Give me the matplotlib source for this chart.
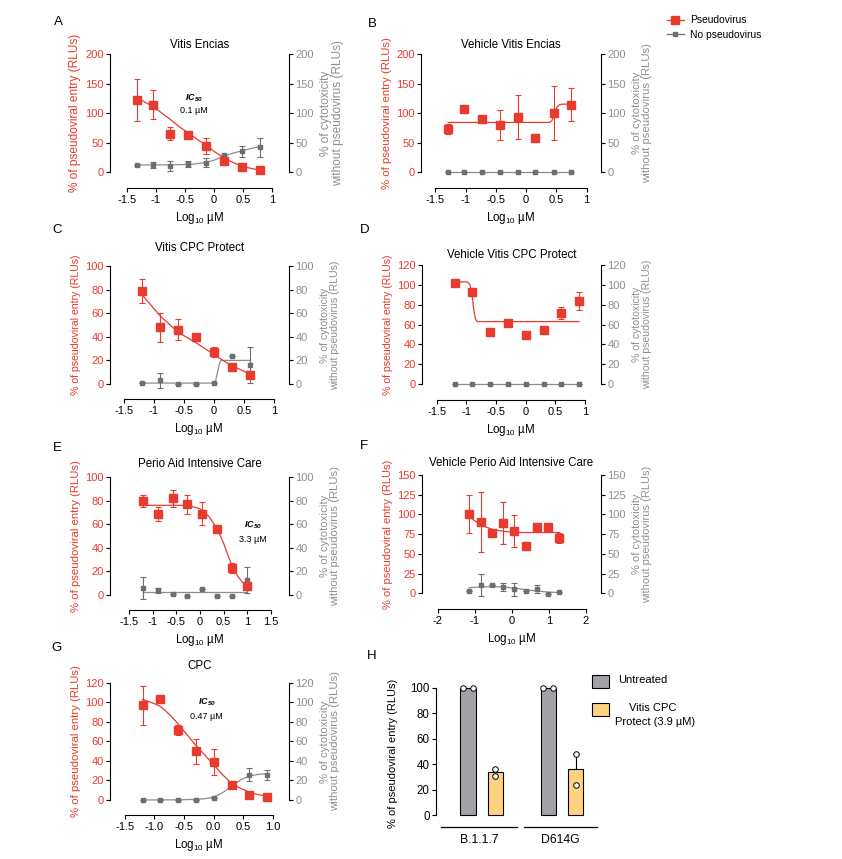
import numpy as np
import matplotlib
matplotlib.use("Agg")
import matplotlib.pyplot as plt
from matplotlib.lines import Line2D
from matplotlib.patches import Rectangle
from matplotlib.ticker import FuncFormatter

plt.rcParams['font.family'] = ['Liberation Sans', 'DejaVu Sans']
plt.rcParams['mathtext.fontset'] = 'custom'
plt.rcParams['mathtext.rm'] = 'Liberation Sans'
plt.rcParams['mathtext.it'] = 'Liberation Sans:italic'
plt.rcParams['mathtext.bf'] = 'Liberation Sans:bold'
plt.rcParams['mathtext.bfit'] = 'Liberation Sans:italic:bold'
plt.rcParams['axes.unicode_minus'] = False

RED = '#e63b2e'
GRAYM = '#6e6e6e'
GRAYL = '#8e8e8e'
GRAYT = '#8f8f8f'

# ---- data ----
# A  Vitis Encias
xA = [-1.33, -1.05, -0.75, -0.44, -0.14, 0.17, 0.48, 0.79]
redA = [122, 114, 65, 62, 44, 18, 8, 4]
redA_err = [35, 25, 11, 3, 13, 0, 0, 0]
redA_fitx = [-1.33, -1.2, -1.05, -0.9, -0.75, -0.6, -0.44, -0.3, -0.14, 0, 0.17, 0.33, 0.48, 0.64, 0.79]
redA_fity = [127, 119, 111, 100, 89, 77, 66, 56, 46, 35, 24, 16, 10, 6, 3]
grayA = [12, 12, 10, 14, 16, 28, 35, 42]
grayA_err = [0, 5, 8, 5, 7, 0, 9, 16]
grayA_fitx = [-1.33, -1.0, -0.7, -0.44, -0.3, -0.14, 0, 0.17, 0.33, 0.48, 0.64, 0.79]
grayA_fity = [12, 12, 12.2, 12.8, 14, 16.5, 20, 27, 32, 36, 40, 43]

# B  Vehicle Vitis Encias
xB = [-1.29, -1.03, -0.73, -0.43, -0.14, 0.15, 0.46, 0.75]
redB = [73, 106, 89, 80, 93, 58, 100, 114]
redB_err = [8, 0, 6, 25, 37, 0, 45, 28]
redB_fitx = [-1.29, 0.38, 0.42, 0.45, 0.48, 0.51, 0.55, 0.6, 0.75]
redB_fity = [84, 84, 86, 92, 103, 110, 114, 115, 115]
grayB = [0, 0, 0, 0, 0, 0, 0, 0]
grayB_err = [0, 0, 0, 0, 0, 0, 0, 0]
grayB_fitx = [-1.29, 0.75]
grayB_fity = [0, 0]

# C  Vitis CPC Protect
xC = [-1.2, -0.9, -0.6, -0.3, 0, 0.3, 0.6]
redC = [79, 48, 46, 40, 27, 14, 8]
redC_err = [10, 12, 9, 0, 4, 0, 3]
redC_fitx = [-1.2, -1.05, -0.9, -0.75, -0.6, -0.45, -0.3, -0.15, 0, 0.15, 0.3, 0.45, 0.6]
redC_fity = [76, 67, 58, 51, 44, 39.5, 35, 30, 25, 20, 15.5, 12, 8.5]
grayC = [0.5, 3, 0, 0, 1, 24, 16]
grayC_err = [0, 6, 0, 0, 0, 0, 15]
grayC_fitx = [-1.2, 0.0, 0.03, 0.06, 0.09, 0.12, 0.6]
grayC_fity = [0.8, 0.8, 3, 10, 17, 20, 20]

# D  Vehicle Vitis CPC Protect
xD = [-1.2, -0.9, -0.6, -0.3, 0, 0.3, 0.6, 0.9]
redD = [102, 93, 53, 62, 49, 55, 72, 84]
redD_err = [2, 0, 0, 0, 0, 0, 6, 9]
redD_fitx = [-1.2, -0.98, -0.94, -0.91, -0.88, -0.85, -0.82, 0.9]
redD_fity = [103, 103, 100, 92, 77, 66, 63, 63]
grayD = [0, 0, 0, 0, 0, 0, 0, 0]
grayD_err = [0, 0, 0, 0, 0, 0, 0, 0]
grayD_fitx = [-1.2, 0.9]
grayD_fity = [0, 0]

# E  Perio Aid Intensive Care
xE = [-1.2, -0.89, -0.58, -0.27, 0.05, 0.37, 0.68, 1.0]
redE = [80, 69, 82, 77, 69, 56, 23, 8]
redE_err = [5, 6, 7, 8, 10, 0, 4, 3]
redE_fitx = [-1.2, -0.8, -0.4, -0.2, 0, 0.1, 0.2, 0.3, 0.4, 0.5, 0.6, 0.7, 0.8, 0.9, 1.0]
redE_fity = [76, 76, 76, 75.5, 73, 70, 66, 60, 53, 44, 33, 23, 16, 11, 8]
grayE = [6, 4, 1, -0.5, 5, -0.5, -0.5, 13]
grayE_err = [9, 2, 0, 0, 0, 0, 0, 11]
grayE_fitx = [-1.2, 1.0]
grayE_fity = [2.5, 2.5]

# F  Vehicle Perio Aid Intensive Care
xF = [-1.15, -0.83, -0.52, -0.23, 0.06, 0.38, 0.68, 0.99, 1.29]
redF = [101, 90, 76, 89, 79, 60, 84, 84, 70]
redF_err = [24, 38, 4, 27, 20, 0, 0, 5, 6]
redF_fitx = [-1.15, -1.0, -0.83, -0.7, -0.52, -0.35, -0.2, 0, 0.3, 0.6, 1.29]
redF_fity = [98, 92, 87, 84, 81, 79.5, 78.5, 77.5, 77, 77, 77]
grayF = [3, 10, 10, 8, 5, 3, 5, -1, 1]
grayF_err = [0, 14, 0, 5, 8, 0, 5, 0, 0]
grayF_fitx = [-1.15, -0.83, -0.52, -0.23, 0.06, 0.38, 0.68, 0.99, 1.29]
grayF_fity = [7, 8, 8.3, 8, 6.5, 4.5, 2.8, 1.5, 0.8]

# G  CPC
xG = [-1.2, -0.9, -0.6, -0.3, 0, 0.3, 0.6, 0.9]
redG = [97, 104, 72, 50, 39, 15, 5, 3]
redG_err = [20, 4, 5, 13, 13, 0, 0, 0]
redG_fitx = [-1.2, -1.05, -0.9, -0.75, -0.6, -0.45, -0.3, -0.15, 0, 0.15, 0.3, 0.45, 0.6, 0.75, 0.9]
redG_fity = [103, 100, 96, 88, 78, 67, 56, 46, 36, 26, 17, 12, 8, 5.5, 4]
grayG = [0, 0, 0, 0, 2.5, 14, 26, 26]
grayG_err = [0, 0, 0, 0, 0, 0, 7, 5]
grayG_fitx = [-1.2, -0.6, -0.3, -0.15, 0, 0.15, 0.3, 0.45, 0.6, 0.75, 0.9]
grayG_fity = [0, 0.2, 0.6, 1.3, 3, 7.5, 14, 20.5, 24.5, 26.3, 27]

# H  variants
variants = ['B.1.1.7', 'D614G']
untreated = [100, 100]
untreated_pts = [[100, 100], [100, 100]]
vitis = [33.5, 36]
vitis_err = [2.5, 12]
vitis_pts = [[36.5, 30.5], [48, 24]]

W, H = 842, 859
fig = plt.figure(figsize=(W / 100, H / 100), dpi=100)


def px_axes(L, R, T, B):
    return fig.add_axes([L / W, 1 - B / H, (R - L) / W, (B - T) / H])


def fmt(v, p):
    return '%g' % round(v, 2)


def dose_panel(box, title, tpad, lfs, xs, red, red_e, rfx, rfy, gray, gray_e, gfx, gfy,
               xlim, xb, xticks, ylim, ytop, ystep, xfmt=None):
    L, R, T, B = box
    wpx = R - L
    ax = px_axes(L, R, T, B)
    ax2 = ax.twinx()
    for a in (ax, ax2):
        a.set_xlim(xlim)
        a.set_ylim(ylim, ytop)
        a.spines['top'].set_visible(False)
        a.set_facecolor('none')
    ax.spines['right'].set_visible(False)
    ax2.spines['left'].set_visible(False)
    ax2.spines['bottom'].set_visible(False)
    ax.spines['left'].set_bounds(0, ytop)
    ax2.spines['right'].set_bounds(0, ytop)
    ax.spines['bottom'].set_bounds(xb[0], xb[1])
    yt = np.arange(0, ytop + 0.1, ystep)
    ax.set_yticks(yt)
    ax2.set_yticks(yt)
    ax.yaxis.set_major_formatter(FuncFormatter(fmt))
    ax2.yaxis.set_major_formatter(FuncFormatter(fmt))
    ax.set_xticks(xticks)
    ax.xaxis.set_major_formatter(xfmt if xfmt else FuncFormatter(fmt))
    ax.tick_params(axis='y', colors='black', labelcolor=RED, labelsize=8, length=3, width=0.8, pad=1.5)
    ax2.tick_params(axis='y', colors='black', labelcolor=GRAYT, labelsize=8, length=3, width=0.8, pad=1.5)
    ax.tick_params(axis='x', labelsize=8, length=3, width=0.8, pad=2)
    for a in (ax, ax2):
        for s in a.spines.values():
            s.set_linewidth(0.8)

    ax.plot(gfx, gfy, color=GRAYL, lw=0.9, zorder=2)
    ax.errorbar(xs, gray, yerr=gray_e, fmt='s', color=GRAYM, ms=2.6, elinewidth=0.8,
                capsize=2, capthick=0.8, zorder=3)
    ax.plot(rfx, rfy, color=RED, lw=0.9, zorder=4)
    ax.errorbar(xs, red, yerr=red_e, fmt='s', color=RED, ms=5.5, elinewidth=0.8,
                capsize=2.2, capthick=0.8, zorder=5)

    ax.set_title(title, fontsize=8.3, pad=tpad)
    ax.set_ylabel('% of pseudoviral entry (RLUs)', color=RED, fontsize=lfs)
    ax2.set_ylabel('% of cytotoxicity\nwithout pseudovirus (RLUs)', color=GRAYT, fontsize=lfs,
                   rotation=90, linespacing=1.0)
    ymid = (ylim * -1) / (ytop - ylim) + 0.5 * ytop / (ytop - ylim)
    ax.yaxis.set_label_coords(-29.0 / wpx, ymid)
    ax2.yaxis.set_label_coords(1 + 31.0 / wpx, ymid)
    xmid = ((xb[0] + xb[1]) / 2 - xlim[0]) / (xlim[1] - xlim[0])
    ax.set_xlabel(r'Log$_{10}$ µM', fontsize=8.3)
    ax.xaxis.set_label_coords(xmid, -22.0 / (B - T))
    return ax


axA = dose_panel((110, 289, 54, 188), 'Vitis Encias', 4.5, 8.6, xA, redA, redA_err, redA_fitx, redA_fity,
                 grayA, grayA_err, grayA_fitx, grayA_fity, (-1.79, 1.29), (-1.5, 1),
                 [-1.5, -1, -0.5, 0, 0.5, 1], -27.1, 200, 50)
axA.text(-0.35, 125, r'$\mathbfit{IC}_{\mathbfit{50}}$', ha='center', va='center', fontsize=6.5)
axA.text(-0.35, 105, '0.1 µM', ha='center', va='center', fontsize=6.5)

dose_panel((421, 601, 54, 188), 'Vehicle Vitis Encias', 4.5, 8.2, xB, redB, redB_err, redB_fitx, redB_fity,
           grayB, grayB_err, grayB_fitx, grayB_fity, (-1.74, 1.24), (-1.5, 1),
           [-1.5, -1, -0.5, 0, 0.5, 1], -27.1, 200, 50)

dose_panel((110, 289, 266, 399), 'Vitis CPC Protect', 11, 7.6, xC, redC, redC_err, redC_fitx, redC_fity,
           grayC, grayC_err, grayC_fitx, grayC_fity, (-1.73, 1.25), (-1.5, 1),
           [-1.5, -1, -0.5, 0, 0.5, 1], -12.7, 100, 20)

dose_panel((422, 601, 265, 400), 'Vehicle Vitis CPC Protect', 5, 7.6, xD, redD, redD_err, redD_fitx, redD_fity,
           grayD, grayD_err, grayD_fitx, grayD_fity, (-1.75, 1.27), (-1.5, 1),
           [-1.5, -1, -0.5, 0, 0.5, 1], -16, 120, 20)

axE = dose_panel((110, 289, 477, 610), 'Perio Aid Intensive Care', 7, 8.2, xE, redE, redE_err, redE_fitx, redE_fity,
                 grayE, grayE_err, grayE_fitx, grayE_fity, (-1.91, 1.89), (-1.5, 1.5),
                 [-1.5, -1, -0.5, 0, 0.5, 1, 1.5], -12.7, 100, 20)
axE.text(1.13, 59, r'$\mathbfit{IC}_{\mathbfit{50}}$', ha='center', va='center', fontsize=6.5)
axE.text(1.12, 47, '3.3 µM', ha='center', va='center', fontsize=6.5)

dose_panel((422, 601, 475, 609), 'Vehicle Perio Aid Intensive Care', 6.5, 8.0, xF, redF, redF_err, redF_fitx, redF_fity,
           grayF, grayF_err, grayF_fitx, grayF_fity, (-2.42, 2.41), (-2, 2),
           [-2, -1, 0, 1, 2], -20, 150, 25)

axG = dose_panel((110, 289, 683, 815), 'CPC', 10, 8.2, xG, redG, redG_err, redG_fitx, redG_fity,
                 grayG, grayG_err, grayG_fitx, grayG_fity, (-1.75, 1.27), (-1.5, 1.0),
                 [-1.5, -1.0, -0.5, 0.0, 0.5, 1.0], -15.4, 120, 20,
                 xfmt=FuncFormatter(lambda v, p: '%.1f' % v))
axG.text(-0.12, 100, r'$\mathbfit{IC}_{\mathbfit{50}}$', ha='center', va='center', fontsize=6.5)
axG.text(-0.12, 86, '0.47 µM', ha='center', va='center', fontsize=6.5)

# ---- panel H ----
axH = px_axes(436, 597, 688, 827)
axH.set_xlim(-1.14, 4.6)
axH.set_ylim(-9.4, 100)
for s in ('top', 'right', 'bottom'):
    axH.spines[s].set_visible(False)
axH.spines['left'].set_bounds(0, 100)
axH.spines['left'].set_linewidth(0.8)
axH.set_xticks([])
axH.set_yticks(np.arange(0, 101, 20))
axH.tick_params(axis='y', labelsize=8.3, length=3, width=0.8, pad=1.5)
axH.set_ylabel('% of pseudoviral entry (RLUs)', fontsize=8)
axH.yaxis.set_label_coords(-0.236, 0.53)

gpos = [0, 2.86]
bw = 0.54
for i, name in enumerate(variants):
    xg = gpos[i]
    xy = gpos[i] + 0.98
    axH.bar(xg, untreated[i], width=bw, color='#a0a2a6', edgecolor='black', lw=0.8, zorder=2)
    axH.bar(xy, vitis[i], width=bw, color='#ffd27f', edgecolor='black', lw=0.8, zorder=2)
    axH.errorbar(xy, vitis[i], yerr=[[0], [vitis_err[i]]], fmt='none', ecolor='black',
                 elinewidth=0.8, capsize=2.5, capthick=0.8, zorder=1)
    axH.scatter([xg - 0.18, xg + 0.18], untreated_pts[i], s=16, facecolor='white',
                edgecolor='black', lw=0.7, zorder=4, clip_on=False)
    axH.scatter([xy, xy], vitis_pts[i], s=16, facecolor='white', edgecolor='black',
                lw=0.7, zorder=4, clip_on=False)
    lo = xg - 0.96 if i == 0 else xg - 0.86
    hi = xy + 0.77
    axH.plot([lo, hi], [-9.4, -9.4], color='black', lw=0.9, clip_on=False)
    axH.text((lo + hi) / 2, -20, name, ha='center', va='center', fontsize=8.8)

# legend H
fig.add_artist(Rectangle((592 / W, 1 - 688 / H), 17 / W, 13 / H, facecolor='#a0a2a6',
                         edgecolor='black', lw=0.8, transform=fig.transFigure))
fig.add_artist(Rectangle((592 / W, 1 - 716 / H), 17 / W, 13 / H, facecolor='#ffd27f',
                         edgecolor='black', lw=0.8, transform=fig.transFigure))
fig.text(618 / W, 1 - 680 / H, 'Untreated', fontsize=8, va='center', ha='left')
fig.text(653 / W, 1 - 708 / H, 'Vitis CPC', fontsize=8, va='center', ha='center')
fig.text(655 / W, 1 - 722 / H, 'Protect (3.9 µM)', fontsize=8, va='center', ha='center')

# top legend
handles = [Line2D([], [], color=RED, marker='s', ms=5.5, lw=0.9),
           Line2D([], [], color=GRAYM, marker='s', ms=2.6, lw=0.9)]
fig.legend(handles, ['Pseudovirus', 'No pseudovirus'], loc='upper left',
           bbox_to_anchor=(662 / W, 1 - 10 / H), frameon=False, fontsize=7.4,
           handlelength=1.6, handletextpad=0.6, labelspacing=0.45, borderpad=0)

# panel letters
for lab, x, y in [('A', 58, 22), ('B', 372, 24), ('C', 57, 230), ('D', 365, 230),
                  ('E', 57, 448), ('F', 364, 446), ('G', 57, 648), ('H', 372, 656)]:
    fig.text(x / W, 1 - y / H, lab, fontsize=9.5, ha='center', va='center')

fig.savefig('out.png', dpi=100)
